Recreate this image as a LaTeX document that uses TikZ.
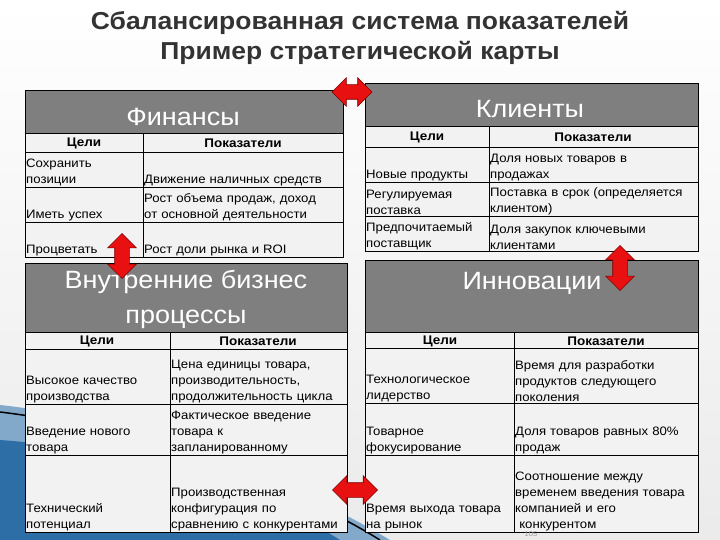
\documentclass[tikz,border=0pt]{standalone}
\usepackage{fontspec}
\setmainfont{Liberation Sans}[FakeStretch=1.08]
\usetikzlibrary{shapes.arrows}
\definecolor{hdrgray}{HTML}{7F7F7F}
\definecolor{cellbg}{HTML}{F2F2F2}
\definecolor{arrred}{HTML}{E81010}
\definecolor{arrdark}{HTML}{7A0000}
\definecolor{swoosh}{HTML}{2E6EA6}
\newcommand{\fs}{\fontsize{12.2}{16}\selectfont}
\newcommand{\bfs}{\fontsize{12.5}{15}\selectfont\bfseries}
\tikzset{
 hdr/.style={fill=hdrgray,draw=black,line width=0.6pt},
 cellbox/.style={fill=cellbg,draw=black,line width=0.6pt},
 txt/.style={anchor=south west,inner sep=1pt,align=left,font=\fs},
 colh/.style={inner sep=0pt,font=\bfs},
 big/.style={text=white,font=\fontsize{25}{35}\selectfont,align=center},
 darr/.style={double arrow,fill=arrred,draw=arrdark,line width=0.6pt,double arrow head extend=7pt,inner xsep=0pt,inner ysep=7pt}
}
\begin{document}
\begin{tikzpicture}[x=1pt,y=-1pt]
\useasboundingbox (0,0) rectangle (720,540);
\shade[top color=white,bottom color=white!92!black] (0,0) rectangle (720,540);
\fill[swoosh!60] (0,405) .. controls (140,420) and (290,480) .. (390,540) -- (0,540) -- cycle;
\fill[swoosh] (0,440) .. controls (140,450) and (270,495) .. (340,540) -- (0,540) -- cycle;
\draw[black,line width=1.5pt] (0,412) .. controls (150,430) and (300,490) .. (380,540);
\node[font=\fontsize{24.5}{30}\selectfont\bfseries,text=black!80,align=center] (title) at (360,38) {Сбалансированная система показателей\\Пример стратегической карты};
% Finance
\fill[hdr] (25,90) rectangle (343,133);
\fill[cellbox] (25,133) rectangle (343,257);
\draw[line width=0.6pt] (25,90) rectangle (343,257) (25,133)--(343,133) (25,152)--(343,152) (25,187)--(343,187) (25,222)--(343,222) (143,133)--(143,257);
\node[big] (fin) at (183,117) {Финансы};
\node[colh] (f1) at (84,143) {Цели};
\node[colh] (f2) at (243,143) {Показатели};
\node[txt,text width=115pt] (fa) at (25,187) {Сохранить\\позиции};
\node[txt,text width=198pt] (fb) at (143,187) {Движение наличных средств};
\node[txt,text width=115pt] (fc) at (25,222) {Иметь успех};
\node[txt,text width=198pt] (fd) at (143,222) {Рост объема продаж, доход\\от основной деятельности};
\node[txt,text width=115pt] (fe) at (25,257) {Процветать};
\node[txt,text width=198pt] (ff) at (143,257) {Рост доли рынка и ROI};
% Clients
\fill[hdr] (365,83) rectangle (698,126);
\fill[cellbox] (365,126) rectangle (698,251);
\draw[line width=0.6pt] (365,83) rectangle (698,251) (365,126)--(698,126) (365,147)--(698,147) (365,182)--(698,182) (365,216)--(698,216) (489,126)--(489,251);
\node[big] (cli) at (530,109) {Клиенты};
\node[colh] (c1) at (427,137) {Цели};
\node[colh] (c2) at (593,137) {Показатели};
\node[txt,text width=122pt] (ca) at (365,182) {Новые продукты};
\node[txt,text width=215pt] (cb) at (489,182) {Доля новых товаров в\\продажах};
\node[txt,text width=122pt] (cc) at (365,216) {Регулируемая\\поставка};
\node[txt,text width=215pt] (cd) at (489,216) {Поставка в срок (определяется\\клиентом)};
\node[txt,text width=122pt] (ce) at (365,251) {Предпочитаемый\\поставщик};
\node[txt,text width=215pt] (cf) at (489,251) {Доля закупок ключевыми\\клиентами};
% Internal
\fill[hdr] (25,263) rectangle (347,332);
\fill[cellbox] (25,332) rectangle (347,532);
\draw[line width=0.6pt] (25,263) rectangle (347,532) (25,332)--(347,332) (25,349)--(347,349) (25,404)--(347,404) (25,455)--(347,455) (170,332)--(170,532);
\node[big] (int) at (186,299) {Внутренние бизнес\\процессы};
\node[colh] (i1) at (97,341) {Цели};
\node[colh] (i2) at (258,341) {Показатели};
\node[txt,text width=143pt] (ia) at (25,404) {Высокое качество\\производства};
\node[txt,text width=185pt] (ib) at (170,404) {Цена единицы товара,\\производительность,\\продолжительность цикла};
\node[txt,text width=143pt] (ic) at (25,455) {Введение нового\\товара};
\node[txt,text width=185pt] (id) at (170,455) {Фактическое введение\\товара к\\запланированному};
\node[txt,text width=143pt] (ie) at (25,532) {Технический\\потенциал};
\node[txt,text width=185pt] (if) at (170,532) {Производственная\\конфигурация по\\сравнению с конкурентами};
% Innovations
\fill[hdr] (365,260) rectangle (698,332);
\fill[cellbox] (365,332) rectangle (698,532);
\draw[line width=0.6pt] (365,260) rectangle (698,332) (365,332) rectangle (698,532) (365,348)--(698,348) (365,403)--(698,403) (365,455)--(698,455) (514,332)--(514,532);
\node[big] (inn) at (532,283) {Инновации};
\node[colh] (n1) at (440,341) {Цели};
\node[colh] (n2) at (606,341) {Показатели};
\node[txt,text width=160pt] (na) at (365,403) {Технологическое\\лидерство};
\node[txt,text width=190pt] (nb) at (514,403) {Время для разработки\\продуктов следующего\\поколения};
\node[txt,text width=160pt] (nc) at (365,455) {Товарное\\фокусирование};
\node[txt,text width=190pt] (nd) at (514,455) {Доля товаров равных 80\%\\продаж};
\node[txt,text width=160pt] (ne) at (365,532) {Время выхода товара\\на рынок};
\node[txt,text width=190pt] (nf) at (514,532) {Соотношение между\\временем введения товара\\компанией и его\\\ конкурентом};
\node[font=\fontsize{7}{7}\selectfont,text=black!40,inner sep=0pt] (pg) at (531,534) {105};
% arrows
\node[darr,minimum height=40pt] (a1) at (352,92) {};
\node[darr,minimum height=45pt,rotate=90] (a2) at (122,256) {};
\node[darr,minimum height=45pt,rotate=90] (a3) at (620,268) {};
\node[darr,minimum height=45pt] (a4) at (355,490) {};
\end{tikzpicture}
\end{document}
